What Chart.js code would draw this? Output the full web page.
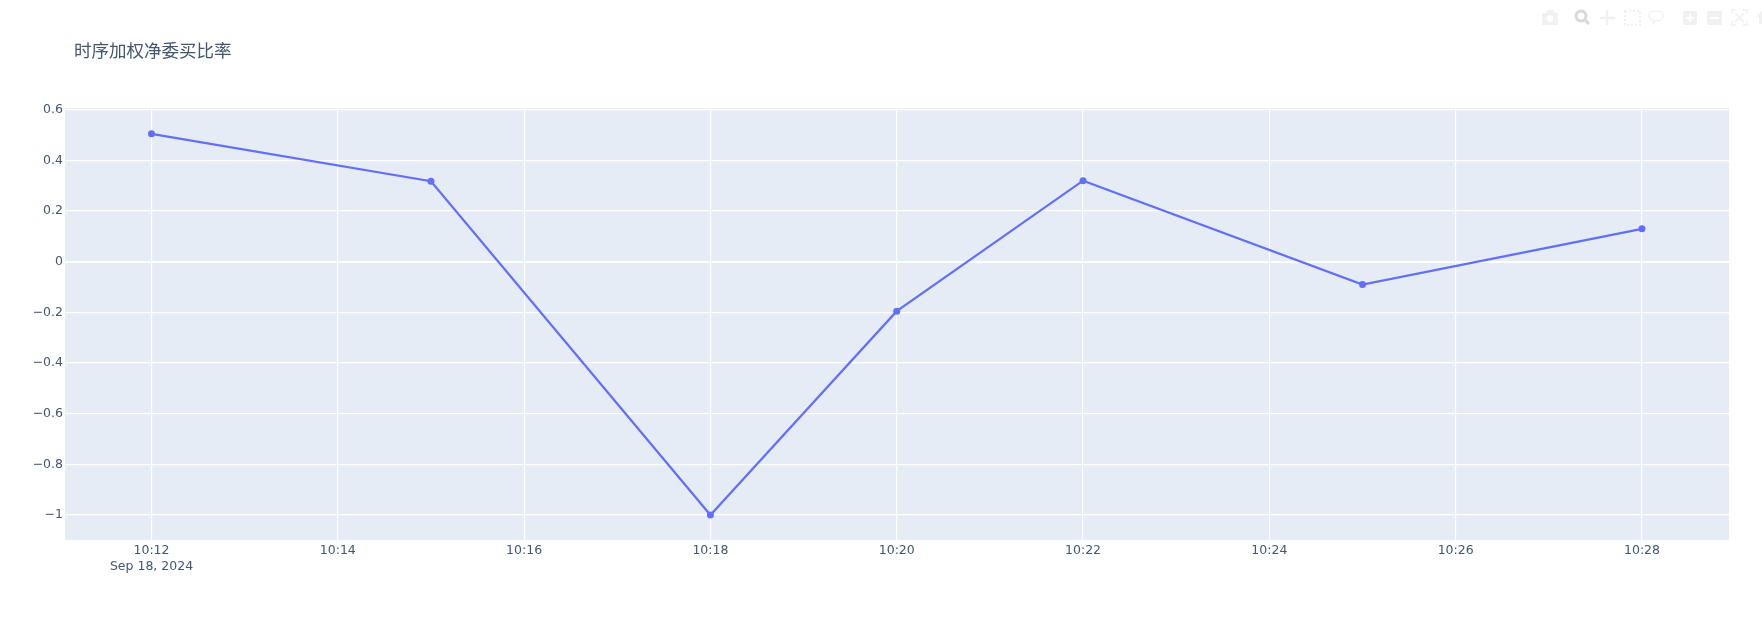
<!DOCTYPE html>
<html>
<head>
<meta charset="utf-8">
<title>时序加权净委买比率</title>
<script src="https://cdn.jsdelivr.net/npm/chart.js@4"></script>
<style>
    body { margin: 0; background: #fff; }
    #wrap { position: relative; width: 1762px; height: 619px; overflow: hidden; }
    #lineChart { display: block; }
    #modebar { position: absolute; left: 0; top: 0; }
</style>
</head>
<body>
<div id="wrap">
    <canvas id="lineChart" width="1762" height="619"></canvas>
    <!-- barra de ferramentas apagada, igual à da imagem -->
    <svg id="modebar" width="1762" height="40" fill="#f1f1f1" stroke="none">
        <path d="M1542 13h4l2-3h5l2 3h3v12h-16z M1550 15a3.500 3.500 0 1 0 .01 0z" fill-rule="evenodd"/>
        <g fill="none" stroke="#d8d8d8" stroke-width="3">
            <circle cx="1581" cy="16" r="5"/>
            <path d="M1585 20l4 4"/>
        </g>
        <path d="M1607 10v15M1600 18h15" stroke="#f1f1f1" stroke-width="2.500"/>
        <rect x="1625" y="11" width="15" height="14" fill="none" stroke="#f1f1f1" stroke-width="2" stroke-dasharray="2 2"/>
        <path d="M1653 25l1-4c-3-1-5-3-5-5 0-3 3-5 7-5s7 2 7 5-3 5-7 5h-2" fill="none" stroke="#f1f1f1" stroke-width="1.500"/>
        <path d="M1683 11h14v14h-14z M1689 14v3h-3v2h3v3h2v-3h3v-2h-3v-3z" fill-rule="evenodd"/>
        <path d="M1707 11h15v14h-15z M1710 17v2h9v-2z" fill-rule="evenodd"/>
        <g fill="none" stroke="#f1f1f1" stroke-width="1.500">
            <path d="M1732 14v-4h4M1743 10h4v4M1747 21v4h-4M1736 25h-4v-4M1735 13l9 9M1744 13l-9 9"/>
        </g>
        <path d="M1762 11l-6 6h3v7h3z"/>
    </svg>
</div>

<script>
// Dados
const tempos = ['10:12', '10:15', '10:18', '10:20', '10:22', '10:25', '10:28'];
const valores = [0.505, 0.318, -1, -0.195, 0.32, -0.09, 0.13];
const ticksTempo = ['10:12', '10:14', '10:16', '10:18', '10:20', '10:22', '10:24', '10:26', '10:28'];
const ticksValor = [0.6, 0.4, 0.2, 0, -0.2, -0.4, -0.6, -0.8, -1];
const dataEixo = 'Sep 18, 2024';
const tituloGrafico = '时序加权净委买比率';

const corTexto = '#44566f';
const fonteEixo = { family: '"DejaVu Sans", sans-serif', size: 12.5, lineHeight: 1.32 };

// hh:mm para minutos, o eixo x é linear
function paraMinutos(t) {
    const partes = t.split(':');
    return Number(partes[0]) * 60 + Number(partes[1]);
}

function paraTexto(m) {
    return Math.floor(m / 60) + ':' + String(m % 60).padStart(2, '0');
}

const fundoPlot = {
    id: 'fundoPlot',
    afterLayout(chart) {
        // título começa alinhado como no original
        chart.titleBlock.left = 74;
    },
    beforeDraw(chart) {
        const a = chart.chartArea;
        chart.ctx.save();
        chart.ctx.fillStyle = '#e5ecf6';
        chart.ctx.fillRect(a.left, a.top, a.right - a.left, a.bottom - a.top);
        chart.ctx.restore();
    }
};

const ctx = document.getElementById('lineChart').getContext('2d');
const lineChart = new Chart(ctx, {
    type: 'line',
    data: {
        datasets: [{
            data: tempos.map(function (t, i) {
                return { x: paraMinutos(t), y: valores[i] };
            }),
            borderColor: '#636efa',
            backgroundColor: '#636efa',
            borderWidth: 2.2,
            pointRadius: 3.5,
            pointBorderWidth: 0,
            tension: 0,
            clip: false
        }]
    },
    options: {
        responsive: false,
        animation: false,
        events: [],
        layout: { padding: { left: 0, right: 33, top: 0, bottom: 0 } },
        plugins: {
            legend: { display: false },
            tooltip: { enabled: false },
            title: {
                display: true,
                text: tituloGrafico,
                align: 'start',
                color: corTexto,
                font: { family: '"Noto Sans CJK SC", sans-serif', size: 17.5, weight: 'normal', lineHeight: 1.2 },
                padding: { top: 40, bottom: 47 }
            }
        },
        scales: {
            x: {
                type: 'linear',
                min: paraMinutos('10:12') - 0.9285,
                max: paraMinutos('10:28') + 0.934,
                border: { display: false },
                grid: { color: '#ffffff', lineWidth: 1.2, drawTicks: false },
                afterBuildTicks: function (axis) {
                    axis.ticks = ticksTempo.map(function (t) {
                        return { value: paraMinutos(t) };
                    });
                },
                afterFit: function (axis) {
                    axis.height = 79;
                },
                ticks: {
                    autoSkip: false,
                    maxRotation: 0,
                    padding: 2,
                    color: corTexto,
                    font: fonteEixo,
                    callback: function (value, index) {
                        const texto = paraTexto(value);
                        return index === 0 ? [texto, dataEixo] : texto;
                    }
                }
            },
            y: {
                min: -1.0986,
                max: 0.607,
                border: { display: false },
                grid: {
                    color: '#ffffff',
                    drawTicks: false,
                    lineWidth: function (c) {
                        return c.tick && c.tick.value === 0 ? 2 : 1.2;
                    }
                },
                afterBuildTicks: function (axis) {
                    axis.ticks = ticksValor.map(function (v) {
                        return { value: v };
                    });
                },
                afterFit: function (axis) {
                    axis.width = 65;
                },
                ticks: {
                    padding: 2,
                    color: corTexto,
                    font: fonteEixo,
                    callback: function (value) {
                        return String(value).replace('-', '\u2212');
                    }
                }
            }
        }
    },
    plugins: [fundoPlot]
});
</script>
</body>
</html>
